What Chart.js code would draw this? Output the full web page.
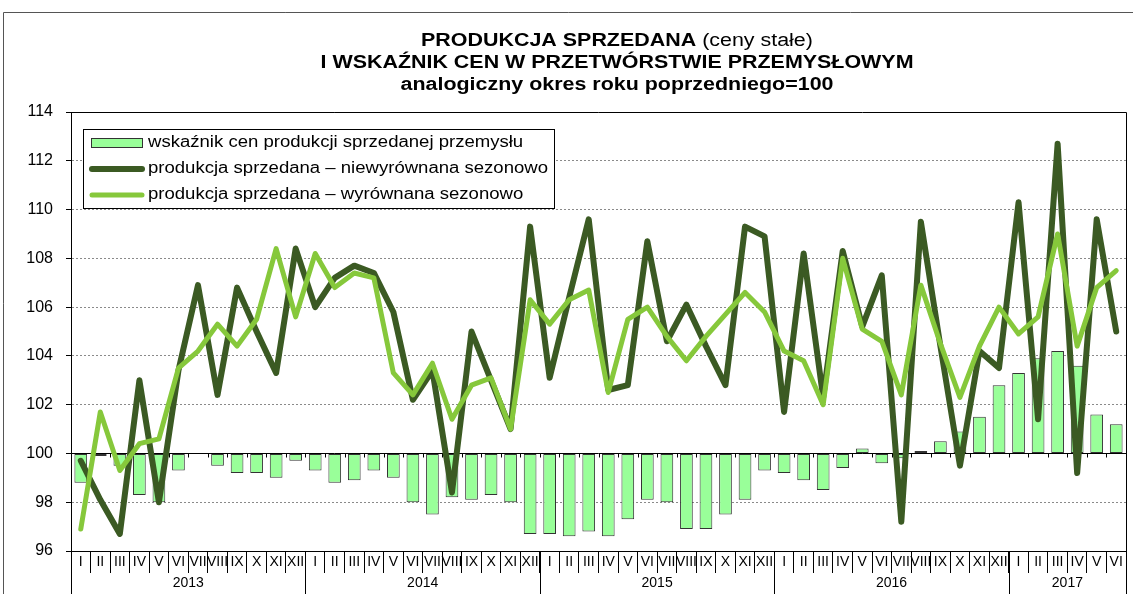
<!DOCTYPE html>
<html>
<head>
<meta charset="utf-8">
<script src="https://cdn.jsdelivr.net/npm/chart.js@4/dist/chart.umd.min.js"></script>
<style>
  body { margin: 0; background: #fff; }
  #wrap { width: 1133px; height: 594px; position: relative; }
</style>
</head>
<body>
<div id="wrap"><canvas id="chart"></canvas></div>
<script>
// dane: okres I 2013 - VI 2017, analogiczny okres roku poprzedniego = 100
const months = ['I','II','III','IV','V','VI','VII','VIII','IX','X','XI','XII'];
const monthLabels = [...months, ...months, ...months, ...months, ...months.slice(0, 6)];
const years = ['2013', '2014', '2015', '2016', '2017'];
const yearStart = [0, 12, 24, 36, 48];

const titleBold = 'PRODUKCJA SPRZEDANA ';
const titleNormal = '(ceny stałe)';
const titleLines = [
  titleBold + titleNormal,
  'I WSKAŹNIK CEN W PRZETWÓRSTWIE PRZEMYSŁOWYM',
  'analogiczny okres roku poprzedniego=100'
];
const seriesNames = [
  'wskaźnik cen produkcji sprzedanej przemysłu',
  'produkcja sprzedana – niewyrównana sezonowo',
  'produkcja sprzedana – wyrównana sezonowo'
];

const priceIndex = [
  98.8, 99.9, 99.5, 98.3, 98.0, 99.3, 100.0, 99.5, 99.2, 99.2, 99.0, 99.7,
  99.3, 98.8, 98.9, 99.3, 99.0, 98.0, 97.5, 98.2, 98.1, 98.3, 98.0, 96.7,
  96.7, 96.6, 96.8, 96.6, 97.3, 98.1, 98.0, 96.9, 96.9, 97.5, 98.1, 99.3,
  99.2, 98.9, 98.5, 99.4, 100.2, 99.6, 99.8, 100.1, 100.5, 100.9, 101.5, 102.8,
  103.3, 103.9, 104.2, 103.6, 101.6, 101.2
];
const prodRaw = [
  99.7, 98.1, 96.7, 103.0, 98.0, 103.4, 106.9, 102.4, 106.8, 105.0, 103.3, 108.4,
  106.0, 107.2, 107.7, 107.4, 105.8, 102.2, 103.4, 98.4, 105.0, 103.0, 101.0, 109.3,
  103.1, 106.4, 109.6, 102.6, 102.8, 108.7, 104.6, 106.1, 104.4, 102.8, 109.3, 108.9,
  101.7, 108.2, 102.3, 108.3, 105.2, 107.3, 97.2, 109.5, 104.4, 99.5, 104.2, 103.5,
  110.3, 101.4, 112.7, 99.2, 109.6, 105.0
];
const prodAdj = [
  96.9, 101.7, 99.3, 100.4, 100.6, 103.5, 104.2, 105.3, 104.4, 105.5, 108.4, 105.6,
  108.2, 106.8, 107.4, 107.2, 103.3, 102.4, 103.7, 101.4, 102.8, 103.1, 101.0, 106.3,
  105.3, 106.3, 106.7, 102.5, 105.5, 106.0, 104.8, 103.8, 104.8, 105.7, 106.6, 105.8,
  104.2, 103.8, 102.0, 108.0, 105.1, 104.6, 102.4, 106.9, 104.5, 102.3, 104.4, 106.0,
  104.9, 105.6, 109.0, 104.4, 106.8, 107.5
];

const FONT = '"Liberation Sans", Arial, sans-serif';
const BAR_FILL = '#99ff99';
const DARK = '#3b5a23';
const LIGHT = '#86c83b';

// tekst rozciągnięty w poziomie (Excel eksportuje szerzej)
function stretchedText(ctx, text, x, y, sx, align) {
  ctx.save();
  ctx.translate(x, y);
  ctx.scale(sx, 1);
  ctx.textAlign = align;
  ctx.fillText(text, 0, 0);
  ctx.restore();
}

// ramka, linia 100, tytuł, legenda, lata
const overlay = {
  id: 'overlay',
  beforeDatasetsDraw(chart) {
    const { ctx, chartArea: a, scales: { x, y } } = chart;
    const y100 = Math.round(y.getPixelForValue(100)) + 0.5;
    ctx.save();
    ctx.strokeStyle = '#000';
    ctx.lineWidth = 1;
    ctx.beginPath();
    ctx.moveTo(a.left, y100);
    ctx.lineTo(a.right, y100);
    const half = (x.getPixelForValue(1) - x.getPixelForValue(0)) / 2;
    for (let i = 0; i <= monthLabels.length; i++) {
      const px = Math.round(x.getPixelForValue(i) - half) + 0.5;
      ctx.moveTo(px, y100);
      ctx.lineTo(px, y100 + 4);
    }
    ctx.stroke();
    ctx.restore();
  },
  afterDraw(chart) {
    const { ctx, chartArea: a, scales: { x } } = chart;
    ctx.save();
    // ramka obszaru wykresu
    ctx.strokeStyle = '#000';
    ctx.lineWidth = 1;
    ctx.beginPath();
    ctx.moveTo(a.left, a.top + 0.5);
    ctx.lineTo(Math.round(a.right) + 0.5, a.top + 0.5);
    ctx.lineTo(Math.round(a.right) + 0.5, chart.height);
    ctx.stroke();

    // lata pod osią
    const half = (x.getPixelForValue(1) - x.getPixelForValue(0)) / 2;
    ctx.font = '14px ' + FONT;
    ctx.fillStyle = '#000';
    ctx.textAlign = 'center';
    ctx.textBaseline = 'middle';
    years.forEach((yr, k) => {
      const i0 = yearStart[k];
      const i1 = k + 1 < years.length ? yearStart[k + 1] : monthLabels.length;
      const xl = x.getPixelForValue(i0) - half;
      const xr = x.getPixelForValue(i1 - 1) + half;
      ctx.fillText(yr, (xl + xr) / 2, 583);
      ctx.beginPath();
      ctx.moveTo(Math.round(xl) + 0.5, a.bottom);
      ctx.lineTo(Math.round(xl) + 0.5, chart.height);
      ctx.stroke();
    });

    // zewnętrzna ramka
    ctx.strokeStyle = '#555';
    ctx.beginPath();
    ctx.moveTo(3.5, chart.height);
    ctx.lineTo(3.5, 12.5);
    ctx.lineTo(chart.width, 12.5);
    ctx.stroke();

    // tytuł (pierwsza linia: część pogrubiona + część zwykła)
    ctx.fillStyle = '#000';
    ctx.font = 'bold 18px ' + FONT;
    const tsx = 593 / ctx.measureText(titleLines[1]).width;
    const cx = 617;
    const wBold = ctx.measureText(titleBold).width * tsx;
    ctx.font = '18px ' + FONT;
    const wNorm = ctx.measureText(titleNormal).width * tsx;
    const x0 = cx - (wBold + wNorm) / 2;
    ctx.font = 'bold 18px ' + FONT;
    stretchedText(ctx, titleBold, x0, 41, tsx, 'left');
    ctx.font = '18px ' + FONT;
    stretchedText(ctx, titleNormal, x0 + wBold, 41, tsx, 'left');
    ctx.font = 'bold 18px ' + FONT;
    stretchedText(ctx, titleLines[1], cx, 63, tsx, 'center');
    stretchedText(ctx, titleLines[2], cx, 85, tsx, 'center');

    // legenda
    const lx = 83.5, ly = 129.5, lw = 471, lh = 79;
    ctx.fillStyle = '#fff';
    ctx.fillRect(lx, ly, lw, lh);
    ctx.strokeStyle = '#000';
    ctx.strokeRect(lx, ly, lw, lh);
    const rows = [143, 169, 195];
    ctx.fillStyle = BAR_FILL;
    ctx.fillRect(91.5, 138.5, 51, 9);
    ctx.strokeStyle = '#333';
    ctx.strokeRect(91.5, 138.5, 51, 9);
    ctx.lineCap = 'round';
    ctx.lineWidth = 6;
    ctx.strokeStyle = DARK;
    ctx.beginPath(); ctx.moveTo(92, rows[1]); ctx.lineTo(142, rows[1]); ctx.stroke();
    ctx.lineWidth = 5;
    ctx.strokeStyle = LIGHT;
    ctx.beginPath(); ctx.moveTo(92, rows[2]); ctx.lineTo(142, rows[2]); ctx.stroke();
    ctx.fillStyle = '#000';
    ctx.font = '16px ' + FONT;
    const lsx = 400 / ctx.measureText(seriesNames[1]).width;
    seriesNames.forEach((s, i) => stretchedText(ctx, s, 148, rows[i], lsx, 'left'));
    ctx.restore();
  }
};

new Chart(document.getElementById('chart'), {
  data: {
    labels: monthLabels,
    datasets: [
      {
        type: 'line', label: seriesNames[2], data: prodAdj, order: 0,
        borderColor: LIGHT, borderWidth: 5, pointRadius: 0, tension: 0,
        borderJoinStyle: 'round', borderCapStyle: 'round'
      },
      {
        type: 'line', label: seriesNames[1], data: prodRaw, order: 1,
        borderColor: DARK, borderWidth: 6, pointRadius: 0, tension: 0,
        borderJoinStyle: 'round', borderCapStyle: 'round'
      },
      {
        type: 'bar', label: seriesNames[0], data: priceIndex, base: 100, order: 2,
        backgroundColor: BAR_FILL, borderColor: '#333', borderWidth: 1, borderSkipped: false,
        barPercentage: 0.65, categoryPercentage: 1
      }
    ]
  },
  options: {
    responsive: true,
    maintainAspectRatio: false,
    animation: false,
    layout: { padding: { top: 112, left: 3, right: 7, bottom: 0 } },
    plugins: { legend: { display: false }, tooltip: { enabled: false }, title: { display: false } },
    scales: {
      x: {
        offset: true,
        afterFit: s => { s.height = 43; },
        grid: { offset: true, drawOnChartArea: false, drawTicks: true, tickLength: 22, color: '#000' },
        border: { color: '#000' },
        ticks: { autoSkip: false, maxRotation: 0, padding: -19, color: '#000', font: { family: FONT, size: 14 } }
      },
      y: {
        min: 96, max: 114,
        afterFit: s => { s.width = 68; },
        ticks: { stepSize: 2, padding: 13, color: '#000', font: { family: FONT, size: 16 } },
        grid: { color: '#8a8a8a', tickColor: '#000', tickLength: 5 },
        border: { color: '#000', dash: [2, 2] }
      }
    }
  },
  plugins: [overlay]
});
</script>
</body>
</html>
